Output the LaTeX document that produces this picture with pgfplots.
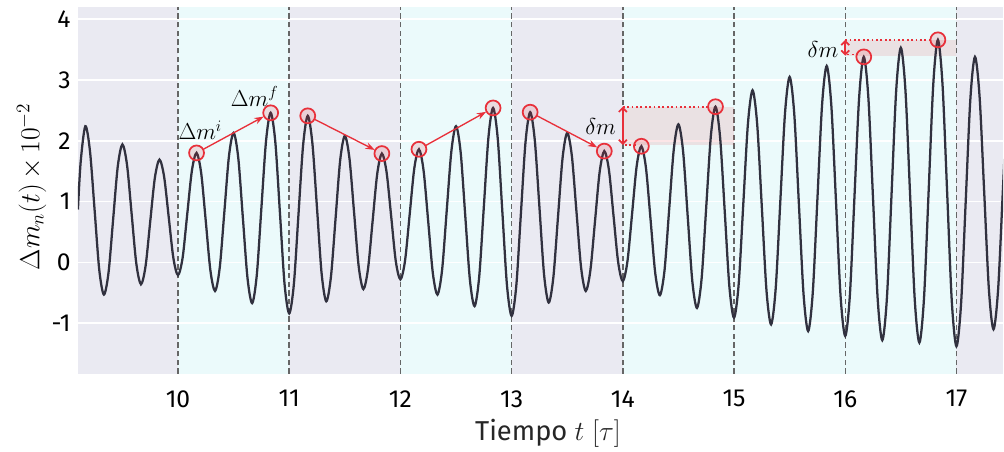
\documentclass[border=0pt]{standalone}
\usepackage{pgfplots}
\pgfplotsset{compat=1.18}
\usepackage{fontspec}
\setmainfont{Fira Sans}
\usetikzlibrary{arrows.meta}
\definecolor{bggray}{HTML}{EAEAF2}
\definecolor{bgcyan}{HTML}{EBFAFB}
\definecolor{curve}{HTML}{31313F}
\definecolor{ared}{HTML}{E8303A}
\begin{document}
\begin{tikzpicture}
\begin{axis}[
  name=ax,
  set layers=standard,
  width=694.5pt, height=275.25pt, scale only axis,
  xmin=9.1, xmax=17.42, ymin=-1.83, ymax=4.2,
  axis line style={draw=none},
  xtick={10,11,12,13,14,15,16,17},
  ytick={-1,0,1,2,3,4},
  major tick length=0pt,
  ymajorgrids, grid style={white, line width=1.3pt},
  /pgf/number format/assume math mode=true,
  tick label style={font=\fontsize{18.5}{22}\selectfont, text=black},
  xticklabel style={yshift=-9pt},
  yticklabel style={xshift=-2pt},
  xlabel={\fontsize{20.5}{24}\selectfont\color{black!85} Tiempo $t\;[\tau]$},
  ylabel={\fontsize{20}{24}\selectfont $\Delta m_n(t)\,{\times}\,10^{-2}$},
  xlabel style={at={(axis description cs:0.508,0)}, anchor=base, yshift=-50pt},
  ylabel style={at={(axis description cs:-0.050,0.51)}, anchor=center},
  clip=true,
]
\begin{pgfonlayer}{axis background}
\fill[bggray] (axis cs:9.1,-1.83) rectangle (axis cs:10,4.2);
\fill[bgcyan] (axis cs:10,-1.83) rectangle (axis cs:11,4.2);
\fill[bggray] (axis cs:11,-1.83) rectangle (axis cs:12,4.2);
\fill[bgcyan] (axis cs:12,-1.83) rectangle (axis cs:13,4.2);
\fill[bggray] (axis cs:13,-1.83) rectangle (axis cs:14,4.2);
\fill[bgcyan] (axis cs:14,-1.83) rectangle (axis cs:17,4.2);
\fill[bggray] (axis cs:17,-1.83) rectangle (axis cs:17.42,4.2);
\end{pgfonlayer}
% dashed verticals
\foreach \xx in {10,11,12,13,14,15,16,17}{
  \edef\tmp{\noexpand\draw[black!60, line width=1.1pt, dash pattern=on 4pt off 2.5pt] (axis cs:\xx,-1.83) -- (axis cs:\xx,4.2);}
  \tmp
}
% shaded regions
\fill[ared, opacity=0.12] (axis cs:14,1.93) rectangle (axis cs:15,2.56);
\fill[ared, opacity=0.12] (axis cs:16,3.40) rectangle (axis cs:17,3.66);
% curve
\addplot[curve, line width=1.7pt, smooth] coordinates {
(9.1,0.87) (9.125,1.66) (9.1667,2.24)
(9.2083,1.83) (9.25,0.86) (9.2917,-0.12) (9.3333,-0.53)
(9.375,-0.17) (9.4167,0.71) (9.4583,1.58) (9.5,1.94)
(9.5417,1.60) (9.5833,0.79) (9.625,-0.02) (9.6667,-0.36)
(9.7083,-0.06) (9.75,0.67) (9.7917,1.39) (9.8333,1.69)
(9.875,1.41) (9.9167,0.74) (9.9583,0.07) (10.0,-0.21)
(10.0417,0.08) (10.0833,0.80) (10.125,1.51) (10.1667,1.80)
(10.2083,1.47) (10.25,0.67) (10.2917,-0.14) (10.3333,-0.47)
(10.375,-0.09) (10.4167,0.83) (10.4583,1.75) (10.5,2.13)
(10.5417,1.72) (10.5833,0.73) (10.625,-0.26) (10.6667,-0.67)
(10.7083,-0.21) (10.75,0.90) (10.7917,2.00) (10.8333,2.46)
(10.875,1.98) (10.9167,0.81) (10.9583,-0.36) (11.0,-0.84)
(11.0417,-0.36) (11.0833,0.79) (11.125,1.93) (11.1667,2.41)
(11.2083,1.96) (11.25,0.89) (11.2917,-0.19) (11.3333,-0.64)
(11.375,-0.24) (11.4167,0.72) (11.4583,1.68) (11.5,2.08)
(11.5417,1.71) (11.5833,0.82) (11.625,-0.07) (11.6667,-0.44)
(11.7083,-0.11) (11.75,0.68) (11.7917,1.46) (11.8333,1.79)
(11.875,1.49) (11.9167,0.76) (11.9583,0.02) (12.0,-0.28)
(12.0417,0.03) (12.0833,0.79) (12.125,1.55) (12.1667,1.86)
(12.2083,1.51) (12.25,0.67) (12.2917,-0.18) (12.3333,-0.53)
(12.375,-0.12) (12.4167,0.86) (12.4583,1.83) (12.5,2.24)
(12.5417,1.81) (12.5833,0.76) (12.625,-0.29) (12.6667,-0.72)
(12.7083,-0.24) (12.75,0.91) (12.7917,2.06) (12.8333,2.54)
(12.875,2.04) (12.9167,0.83) (12.9583,-0.38) (13.0,-0.88)
(13.0417,-0.39) (13.0833,0.80) (13.125,1.98) (13.1667,2.47)
(13.2083,2.01) (13.25,0.91) (13.2917,-0.20) (13.3333,-0.66)
(13.375,-0.25) (13.4167,0.74) (13.4583,1.72) (13.5,2.13)
(13.5417,1.75) (13.5833,0.83) (13.625,-0.09) (13.6667,-0.47)
(13.7083,-0.13) (13.75,0.68) (13.7917,1.49) (13.8333,1.83)
(13.875,1.52) (13.9167,0.76) (13.9583,0.00) (14.0,-0.31)
(14.0417,0.02) (14.0833,0.80) (14.125,1.59) (14.1667,1.91)
(14.2083,1.55) (14.25,0.69) (14.2917,-0.18) (14.3333,-0.54)
(14.375,-0.13) (14.4167,0.87) (14.4583,1.86) (14.5,2.27)
(14.5417,1.83) (14.5833,0.76) (14.625,-0.31) (14.6667,-0.75)
(14.7083,-0.27) (14.75,0.91) (14.7917,2.08) (14.8333,2.56)
(14.875,2.05) (14.9167,0.83) (14.9583,-0.40) (15.0,-0.91)
(15.0417,-0.36) (15.0833,0.96) (15.125,2.28) (15.1667,2.83)
(15.2083,2.27) (15.25,0.91) (15.2917,-0.46) (15.3333,-1.02)
(15.375,-0.42) (15.4167,1.02) (15.4583,2.45) (15.5,3.05)
(15.5417,2.44) (15.5833,0.96) (15.625,-0.52) (15.6667,-1.13)
(15.7083,-0.49) (15.75,1.05) (15.7917,2.59) (15.8333,3.23)
(15.875,2.58) (15.9167,1.01) (15.9583,-0.56) (16.0,-1.21)
(16.0417,-0.54) (16.0833,1.09) (16.125,2.71) (16.1667,3.38)
(16.2083,2.70) (16.25,1.05) (16.2917,-0.60) (16.3333,-1.28)
(16.375,-0.58) (16.4167,1.13) (16.4583,2.83) (16.5,3.53)
(16.5417,2.82) (16.5833,1.11) (16.625,-0.61) (16.6667,-1.32)
(16.7083,-0.59) (16.75,1.17) (16.7917,2.93) (16.8333,3.66)
(16.875,2.92) (16.9167,1.14) (16.9583,-0.64) (17.0,-1.38)
(17.0417,-0.68) (17.0833,1.00) (17.125,2.68) (17.1667,3.38)
(17.2083,2.72) (17.25,1.14) (17.2917,-0.44) (17.3333,-1.10)
(17.375,-0.44) (17.4167,1.15) (17.4583,2.74)
};
% annotation lines
\draw[ared, dotted, line width=1.3pt] (axis cs:14,2.56) -- (axis cs:14.78,2.56);
\draw[ared, dotted, line width=1.3pt] (axis cs:14.02,1.93) -- (axis cs:14.13,1.93);
\draw[ared, line width=1.3pt, {Straight Barb[length=3pt,width=6pt]}-{Straight Barb[length=3pt,width=6pt]}] (axis cs:14,1.93) -- (axis cs:14,2.56);
\draw[ared, dotted, line width=1.3pt] (axis cs:16,3.66) -- (axis cs:16.78,3.66);
\draw[ared, dotted, line width=1.3pt] (axis cs:16.02,3.42) -- (axis cs:16.13,3.42);
\draw[ared, line width=1.3pt, {Straight Barb[length=3pt,width=6pt]}-{Straight Barb[length=3pt,width=6pt]}] (axis cs:16,3.40) -- (axis cs:16,3.66);
% arrows
\draw[ared, line width=1pt, -{Stealth[length=7pt,width=5pt]}, shorten <=6pt, shorten >=6pt] (axis cs:10.1667,1.80) -- (axis cs:10.8333,2.46);
\draw[ared, line width=1pt, -{Stealth[length=7pt,width=5pt]}, shorten <=6pt, shorten >=6pt] (axis cs:11.1667,2.41) -- (axis cs:11.8333,1.79);
\draw[ared, line width=1pt, -{Stealth[length=7pt,width=5pt]}, shorten <=6pt, shorten >=6pt] (axis cs:12.1667,1.86) -- (axis cs:12.8333,2.54);
\draw[ared, line width=1pt, -{Stealth[length=7pt,width=5pt]}, shorten <=6pt, shorten >=6pt] (axis cs:13.1667,2.47) -- (axis cs:13.8333,1.83);
% circles
\addplot[only marks, mark=*, mark size=5.6pt, mark options={draw=ared, line width=1.3pt, fill=ared, fill opacity=0.15, draw opacity=1}] coordinates {
(10.1667,1.80) (10.8333,2.46) (11.1667,2.41) (11.8333,1.79) (12.1667,1.86) (12.8333,2.54)
(13.1667,2.47) (13.8333,1.83) (14.1667,1.91) (14.8333,2.56) (16.1667,3.38) (16.8333,3.66)
};
% labels
\node[font=\fontsize{17}{20}\selectfont] at (axis cs:10.20,2.17) {$\Delta m^i$};
\node[font=\fontsize{17}{20}\selectfont] at (axis cs:10.69,2.73) {$\Delta m^f$};
\node[font=\fontsize{18}{20}\selectfont] at (axis cs:13.80,2.24) {$\delta m$};
\node[font=\fontsize{18}{20}\selectfont] at (axis cs:15.80,3.50) {$\delta m$};
\end{axis}
\path (ax.south west) ++(-58.5pt,-53.25pt);
\path (ax.north east) ++(0,5.25pt);
\end{tikzpicture}
\end{document}
